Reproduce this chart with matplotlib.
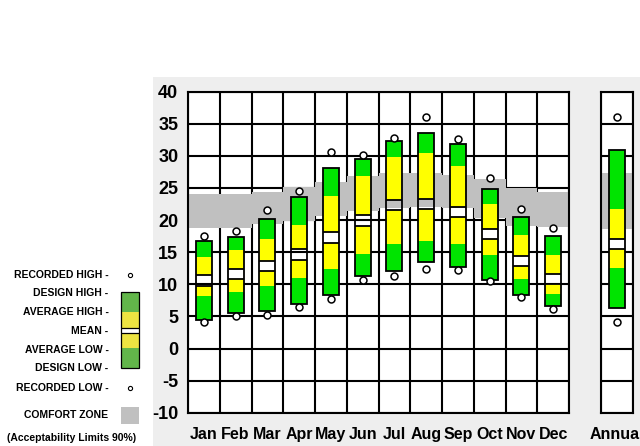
import matplotlib
matplotlib.use('Agg')
import numpy as np
import matplotlib.pyplot as plt
from matplotlib.patches import Rectangle

# monthly temperature ranges (deg C)
months = ['Jan', 'Feb', 'Mar', 'Apr', 'May', 'Jun', 'Jul', 'Aug', 'Sep', 'Oct', 'Nov', 'Dec']
design_high = [16.8, 17.3, 20.2, 23.6, 28.1, 29.5, 32.3, 33.6, 31.8, 24.9, 20.5, 17.6]
avg_high = [14.2, 15.4, 17.1, 19.3, 23.7, 26.9, 29.8, 30.4, 28.5, 22.5, 17.7, 14.5]
mean_temp = [10.6, 11.55, 12.85, 14.65, 17.3, 19.95, 22.35, 22.55, 21.25, 17.85, 13.65, 10.85]
avg_low = [8.2, 8.75, 9.8, 11.0, 12.4, 14.7, 16.3, 16.7, 16.2, 14.5, 10.8, 8.5]
design_low = [4.4, 5.5, 5.8, 6.9, 8.4, 11.25, 12.1, 13.4, 12.7, 10.7, 8.4, 6.6]
rec_high = [17.5, 18.3, 21.5, 24.5, 30.6, 30.1, 32.8, 36.1, 32.6, 26.6, 21.8, 18.7]
rec_low = [4.2, 5.0, 5.2, 6.4, 7.7, 10.6, 11.25, 12.4, 12.3, 10.5, 8.0, 6.2]
comfort_hi = [24.0, 24.0, 24.4, 25.2, 25.9, 26.9, 27.4, 27.4, 27.1, 26.4, 25.0, 24.4]
comfort_lo = [18.7, 18.7, 19.4, 19.9, 20.6, 21.4, 21.9, 22.0, 21.9, 20.3, 19.1, 18.9]

# whole-year values
annual = {'design_high': 30.9, 'avg_high': 21.7, 'mean': 16.3, 'avg_low': 12.5,
          'design_low': 6.25, 'rec_high': 36.0, 'rec_low': 4.1,
          'comfort_hi': 27.4, 'comfort_lo': 18.6}

GREEN = '#00e400'
YELLOW = '#ffff00'
GRAY = '#c0c0c0'
BAND = 0.8  # half height of the mean band
BW = 0.5    # bar width in columns

plt.rcParams['font.family'] = ['Liberation Sans', 'DejaVu Sans']

fig = plt.figure(figsize=(6.4, 4.46), dpi=100)

# pixel-space layer for the backdrop and the key
bg = fig.add_axes([0, 0, 1, 1], zorder=-1)
bg.set_xlim(0, 640)
bg.set_ylim(446, 0)
bg.axis('off')
bg.add_patch(Rectangle((153, 77), 487, 369, color='#eeeeee', lw=0))


def draw_bars(ax, x, dh, ah, mn, al, dl, rh, rl):
    x = np.asarray(x, float)
    dh, ah, mn, al, dl = map(lambda v: np.asarray(v, float), (dh, ah, mn, al, dl))
    ax.bar(x, al - dl, bottom=dl, width=BW, color=GREEN, lw=0, zorder=3)
    ax.bar(x, (mn - BAND) - al, bottom=al, width=BW, color=YELLOW, lw=0, zorder=3)
    ax.bar(x, ah - (mn + BAND), bottom=mn + BAND, width=BW, color=YELLOW, lw=0, zorder=3)
    ax.bar(x, dh - ah, bottom=ah, width=BW, color=GREEN, lw=0, zorder=3)
    ax.bar(x, dh - dl, bottom=dl, width=BW, fill=False, edgecolor='black', lw=1.3, zorder=4)
    ax.hlines(mn + BAND, x - BW / 2, x + BW / 2, color='black', lw=1.3, zorder=4)
    ax.hlines(mn - BAND, x - BW / 2, x + BW / 2, color='black', lw=1.3, zorder=4)
    ax.plot(x, rh, 'o', ms=5, mfc='white', mec='black', mew=1.1, zorder=5, clip_on=False)
    ax.plot(x, rl, 'o', ms=5, mfc='white', mec='black', mew=1.1, zorder=5, clip_on=False)


def style_axes(ax, ncols):
    ax.set_facecolor('white')
    ax.set_ylim(-10, 40)
    ax.set_xlim(0, ncols)
    ax.set_yticks(range(-10, 41, 5))
    ax.set_xticks(np.arange(ncols + 1), minor=True)
    ax.set_axisbelow(True)
    ax.grid(True, which='major', axis='y', color='black', lw=1.5)
    ax.grid(True, which='minor', axis='x', color='black', lw=1.5)
    ax.tick_params(which='both', length=0)
    for s in ax.spines.values():
        s.set_linewidth(1.5)
        s.set_color('black')


bottom = (446 - 412.7) / 446
height = 321 / 446

ax = fig.add_axes([188 / 640, bottom, 381 / 640, height])
style_axes(ax, 12)
edges = np.arange(13)
ax.fill_between(edges, comfort_lo + [comfort_lo[-1]], comfort_hi + [comfort_hi[-1]],
                step='post', color=GRAY, lw=0, zorder=2)
xc = np.arange(12) + 0.5
draw_bars(ax, xc, design_high, avg_high, mean_temp, avg_low, design_low, rec_high, rec_low)
ax.set_xticks(xc)
ax.set_xticklabels(months, fontsize=11.5, fontweight='bold')
ax.set_yticklabels([str(v) for v in range(-10, 41, 5)], fontsize=13, fontweight='bold')
ax.tick_params(axis='x', pad=10)
ax.tick_params(axis='y', pad=7)

axa = fig.add_axes([601 / 640, bottom, 31.7 / 640, height])
style_axes(axa, 1)
axa.fill_between([0, 1], annual['comfort_lo'], annual['comfort_hi'], color=GRAY, lw=0, zorder=2)
draw_bars(axa, [0.5], [annual['design_high']], [annual['avg_high']], [annual['mean']],
          [annual['avg_low']], [annual['design_low']], [annual['rec_high']], [annual['rec_low']])
axa.set_xticks([0.5])
axa.set_xticklabels(['Annual'], fontsize=11.5, fontweight='bold')
axa.set_yticklabels([])
axa.tick_params(axis='x', pad=10)

# key on the left
key_labels = ['RECORDED HIGH -', 'DESIGN HIGH -', 'AVERAGE HIGH -', 'MEAN -',
              'AVERAGE LOW -', 'DESIGN LOW -', 'RECORDED LOW -', 'COMFORT ZONE']
key_y = [275, 293.3, 312.3, 331, 350, 368.3, 387.7, 415]
for lab, y in zip(key_labels, key_y):
    bg.text(108.5, y, lab, ha='right', va='center', fontsize=7.5, fontweight='bold')
bg.text(71.5, 438, '(Acceptability Limits 90%)', ha='center', va='center',
        fontsize=7.5, fontweight='bold')

kx, kw = 120.7, 18.6
key_green = '#62b64a'
key_yellow = '#ede442'
segs = [(292.3, 311.7, key_green), (311.7, 327.5, key_yellow), (327.5, 332.7, 'white'),
        (332.7, 348.3, key_yellow), (348.3, 368.3, key_green)]
for y0, y1, c in segs:
    bg.add_patch(Rectangle((kx, y0), kw, y1 - y0, color=c, lw=0))
bg.add_patch(Rectangle((kx, 292.3), kw, 76, fill=False, edgecolor='black', lw=0.9))
bg.hlines([327.5, 332.7], kx, kx + kw, color='black', lw=0.9)
bg.plot([130, 130], [275, 387.7], 'o', ls='none', ms=3, mfc='white', mec='black', mew=0.8)
bg.add_patch(Rectangle((kx, 406.7), kw, 17.3, color=GRAY, lw=0))

fig.savefig('out.png', dpi=100)
